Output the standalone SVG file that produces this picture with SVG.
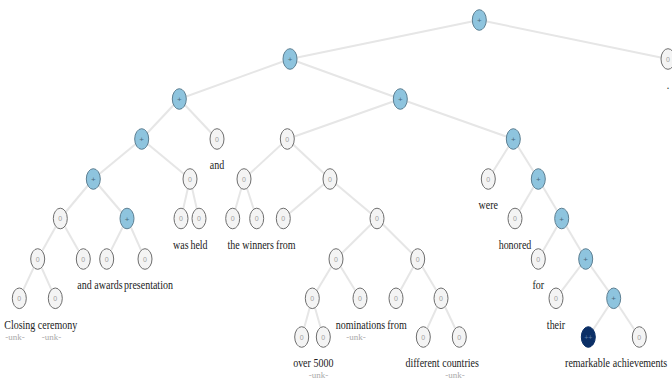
<svg xmlns="http://www.w3.org/2000/svg" width="672" height="379" viewBox="0 0 672 379">
<style>
.e{stroke:#e6e6e6;stroke-width:2;fill:none}
.z{fill:#f4f4f4;stroke:#6e6e6e;stroke-width:1}
.p{fill:#8ec4de;stroke:#5d7f92;stroke-width:1}
.pp{fill:#0b2f66;stroke:#0b2f66;stroke-width:1}
.d{font-family:"Liberation Sans",Arial,sans-serif;font-size:7px;text-anchor:middle;fill:#a0a0a0}
.dp{font-family:"Liberation Sans",Arial,sans-serif;font-size:8px;text-anchor:middle;fill:#4a6a7c}
.dpp{font-family:"Liberation Sans",Arial,sans-serif;font-size:7px;text-anchor:middle;fill:#5f7fa8}
.w{font-family:"Liberation Serif","Times New Roman",serif;font-size:12.5px;text-anchor:middle;fill:#222}
.u{font-family:"Liberation Serif","Times New Roman",serif;font-size:9px;text-anchor:middle;fill:#aaa}
</style>
<rect width="672" height="379" fill="#fff"/>
<g id="connectors">
<line class="e" x1="479.3" y1="20" x2="290" y2="59"/>
<line class="e" x1="479.3" y1="20" x2="668" y2="59"/>
<line class="e" x1="290" y1="59" x2="179.3" y2="99"/>
<line class="e" x1="290" y1="59" x2="400.3" y2="99"/>
<line class="e" x1="179.3" y1="99" x2="141.7" y2="139"/>
<line class="e" x1="179.3" y1="99" x2="217" y2="139"/>
<line class="e" x1="400.3" y1="99" x2="287.3" y2="139"/>
<line class="e" x1="400.3" y1="99" x2="513.3" y2="139"/>
<line class="e" x1="141.7" y1="139" x2="93.3" y2="179"/>
<line class="e" x1="141.7" y1="139" x2="190" y2="179"/>
<line class="e" x1="287.3" y1="139" x2="244" y2="179"/>
<line class="e" x1="287.3" y1="139" x2="330" y2="179"/>
<line class="e" x1="513.3" y1="139" x2="488.3" y2="179"/>
<line class="e" x1="513.3" y1="139" x2="538.3" y2="179"/>
<line class="e" x1="93.3" y1="179" x2="60.3" y2="218.5"/>
<line class="e" x1="93.3" y1="179" x2="127" y2="218.5"/>
<line class="e" x1="190" y1="179" x2="181" y2="218.5"/>
<line class="e" x1="190" y1="179" x2="199" y2="218.5"/>
<line class="e" x1="244" y1="179" x2="232.7" y2="218.5"/>
<line class="e" x1="244" y1="179" x2="256.7" y2="218.5"/>
<line class="e" x1="330" y1="179" x2="283.3" y2="218.5"/>
<line class="e" x1="330" y1="179" x2="377" y2="218.5"/>
<line class="e" x1="538.3" y1="179" x2="515" y2="218.5"/>
<line class="e" x1="538.3" y1="179" x2="561.7" y2="218.5"/>
<line class="e" x1="60.3" y1="218.5" x2="37.7" y2="259"/>
<line class="e" x1="60.3" y1="218.5" x2="83.3" y2="259"/>
<line class="e" x1="127" y1="218.5" x2="106.7" y2="259"/>
<line class="e" x1="127" y1="218.5" x2="145" y2="259"/>
<line class="e" x1="377" y1="218.5" x2="336" y2="259"/>
<line class="e" x1="377" y1="218.5" x2="417.7" y2="259"/>
<line class="e" x1="561.7" y1="218.5" x2="538.3" y2="259"/>
<line class="e" x1="561.7" y1="218.5" x2="585.7" y2="259"/>
<line class="e" x1="37.7" y1="259" x2="19.3" y2="298.3"/>
<line class="e" x1="37.7" y1="259" x2="55.3" y2="298.3"/>
<line class="e" x1="336" y1="259" x2="312.3" y2="298.3"/>
<line class="e" x1="336" y1="259" x2="360" y2="298.3"/>
<line class="e" x1="417.7" y1="259" x2="396" y2="298.3"/>
<line class="e" x1="417.7" y1="259" x2="441" y2="298.3"/>
<line class="e" x1="585.7" y1="259" x2="556" y2="298.3"/>
<line class="e" x1="585.7" y1="259" x2="613.7" y2="298.3"/>
<line class="e" x1="312.3" y1="298.3" x2="301.7" y2="337"/>
<line class="e" x1="312.3" y1="298.3" x2="323.3" y2="337"/>
<line class="e" x1="441" y1="298.3" x2="423.3" y2="337"/>
<line class="e" x1="441" y1="298.3" x2="459.3" y2="337"/>
<line class="e" x1="613.7" y1="298.3" x2="588.3" y2="337"/>
<line class="e" x1="613.7" y1="298.3" x2="639.3" y2="337"/>
</g>
<g id="n0"><ellipse class="p" cx="479.3" cy="20" rx="7" ry="10.3"/><text class="dp" x="479.3" y="23">+</text></g>
<g id="n1"><ellipse class="p" cx="290" cy="59" rx="7" ry="10.3"/><text class="dp" x="290" y="62">+</text></g>
<g id="n2"><ellipse class="z" cx="668" cy="59" rx="7" ry="10.3"/><text class="d" x="668" y="61.5">0</text><text class="w" transform="translate(668 89) scale(0.8 1)">.</text></g>
<g id="n3"><ellipse class="p" cx="179.3" cy="99" rx="7" ry="10.3"/><text class="dp" x="179.3" y="102">+</text></g>
<g id="n4"><ellipse class="p" cx="400.3" cy="99" rx="7" ry="10.3"/><text class="dp" x="400.3" y="102">+</text></g>
<g id="n5"><ellipse class="p" cx="141.7" cy="139" rx="7" ry="10.3"/><text class="dp" x="141.7" y="142">+</text></g>
<g id="n6"><ellipse class="z" cx="217" cy="139" rx="7" ry="10.3"/><text class="d" x="217" y="141.5">0</text><text class="w" transform="translate(217 169) scale(0.8 1)">and</text></g>
<g id="n7"><ellipse class="z" cx="287.3" cy="139" rx="7" ry="10.3"/><text class="d" x="287.3" y="141.5">0</text></g>
<g id="n8"><ellipse class="p" cx="513.3" cy="139" rx="7" ry="10.3"/><text class="dp" x="513.3" y="142">+</text></g>
<g id="n9"><ellipse class="p" cx="93.3" cy="179" rx="7" ry="10.3"/><text class="dp" x="93.3" y="182">+</text></g>
<g id="n10"><ellipse class="z" cx="190" cy="179" rx="7" ry="10.3"/><text class="d" x="190" y="181.5">0</text></g>
<g id="n11"><ellipse class="z" cx="244" cy="179" rx="7" ry="10.3"/><text class="d" x="244" y="181.5">0</text></g>
<g id="n12"><ellipse class="z" cx="330" cy="179" rx="7" ry="10.3"/><text class="d" x="330" y="181.5">0</text></g>
<g id="n13"><ellipse class="z" cx="488.3" cy="179" rx="7" ry="10.3"/><text class="d" x="488.3" y="181.5">0</text><text class="w" transform="translate(488.3 209) scale(0.8 1)">were</text></g>
<g id="n14"><ellipse class="p" cx="538.3" cy="179" rx="7" ry="10.3"/><text class="dp" x="538.3" y="182">+</text></g>
<g id="n15"><ellipse class="z" cx="60.3" cy="218.5" rx="7" ry="10.3"/><text class="d" x="60.3" y="221">0</text></g>
<g id="n16"><ellipse class="p" cx="127" cy="218.5" rx="7" ry="10.3"/><text class="dp" x="127" y="221.5">+</text></g>
<g id="n17"><ellipse class="z" cx="181" cy="218.5" rx="7" ry="10.3"/><text class="d" x="181" y="221">0</text><text class="w" transform="translate(180.8 248.5) scale(0.8 1)">was</text></g>
<g id="n18"><ellipse class="z" cx="199" cy="218.5" rx="7" ry="10.3"/><text class="d" x="199" y="221">0</text><text class="w" transform="translate(199 248.5) scale(0.8 1)">held</text></g>
<g id="n19"><ellipse class="z" cx="232.7" cy="218.5" rx="7" ry="10.3"/><text class="d" x="232.7" y="221">0</text><text class="w" transform="translate(233.5 248.5) scale(0.8 1)">the</text></g>
<g id="n20"><ellipse class="z" cx="256.7" cy="218.5" rx="7" ry="10.3"/><text class="d" x="256.7" y="221">0</text><text class="w" transform="translate(258 248.5) scale(0.8 1)">winners</text></g>
<g id="n21"><ellipse class="z" cx="283.3" cy="218.5" rx="7" ry="10.3"/><text class="d" x="283.3" y="221">0</text><text class="w" transform="translate(285.8 248.5) scale(0.8 1)">from</text></g>
<g id="n22"><ellipse class="z" cx="377" cy="218.5" rx="7" ry="10.3"/><text class="d" x="377" y="221">0</text></g>
<g id="n23"><ellipse class="z" cx="515" cy="218.5" rx="7" ry="10.3"/><text class="d" x="515" y="221">0</text><text class="w" transform="translate(515 248.5) scale(0.8 1)">honored</text></g>
<g id="n24"><ellipse class="p" cx="561.7" cy="218.5" rx="7" ry="10.3"/><text class="dp" x="561.7" y="221.5">+</text></g>
<g id="n25"><ellipse class="z" cx="37.7" cy="259" rx="7" ry="10.3"/><text class="d" x="37.7" y="261.5">0</text></g>
<g id="n26"><ellipse class="z" cx="83.3" cy="259" rx="7" ry="10.3"/><text class="d" x="83.3" y="261.5">0</text><text class="w" transform="translate(84.5 289) scale(0.8 1)">and</text></g>
<g id="n27"><ellipse class="z" cx="106.7" cy="259" rx="7" ry="10.3"/><text class="d" x="106.7" y="261.5">0</text><text class="w" transform="translate(108.5 289) scale(0.8 1)">awards</text></g>
<g id="n28"><ellipse class="z" cx="145" cy="259" rx="7" ry="10.3"/><text class="d" x="145" y="261.5">0</text><text class="w" transform="translate(148.5 289) scale(0.8 1)">presentation</text></g>
<g id="n29"><ellipse class="z" cx="336" cy="259" rx="7" ry="10.3"/><text class="d" x="336" y="261.5">0</text></g>
<g id="n30"><ellipse class="z" cx="417.7" cy="259" rx="7" ry="10.3"/><text class="d" x="417.7" y="261.5">0</text></g>
<g id="n31"><ellipse class="z" cx="538.3" cy="259" rx="7" ry="10.3"/><text class="d" x="538.3" y="261.5">0</text><text class="w" transform="translate(538.3 289) scale(0.8 1)">for</text></g>
<g id="n32"><ellipse class="p" cx="585.7" cy="259" rx="7" ry="10.3"/><text class="dp" x="585.7" y="262">+</text></g>
<g id="n33"><ellipse class="z" cx="19.3" cy="298.3" rx="7" ry="10.3"/><text class="d" x="19.3" y="300.8">0</text><text class="w" transform="translate(19.8 328.5) scale(0.8 1)">Closing</text><text class="u" x="15" y="339.5">-unk-</text></g>
<g id="n34"><ellipse class="z" cx="55.3" cy="298.3" rx="7" ry="10.3"/><text class="d" x="55.3" y="300.8">0</text><text class="w" transform="translate(57.5 328.5) scale(0.8 1)">ceremony</text><text class="u" x="51.5" y="339.5">-unk-</text></g>
<g id="n35"><ellipse class="z" cx="312.3" cy="298.3" rx="7" ry="10.3"/><text class="d" x="312.3" y="300.8">0</text></g>
<g id="n36"><ellipse class="z" cx="360" cy="298.3" rx="7" ry="10.3"/><text class="d" x="360" y="300.8">0</text><text class="w" transform="translate(360.5 328.5) scale(0.8 1)">nominations</text><text class="u" x="356" y="339.5">-unk-</text></g>
<g id="n37"><ellipse class="z" cx="396" cy="298.3" rx="7" ry="10.3"/><text class="d" x="396" y="300.8">0</text><text class="w" transform="translate(397 328.5) scale(0.8 1)">from</text></g>
<g id="n38"><ellipse class="z" cx="441" cy="298.3" rx="7" ry="10.3"/><text class="d" x="441" y="300.8">0</text></g>
<g id="n39"><ellipse class="z" cx="556" cy="298.3" rx="7" ry="10.3"/><text class="d" x="556" y="300.8">0</text><text class="w" transform="translate(556 328.5) scale(0.8 1)">their</text></g>
<g id="n40"><ellipse class="p" cx="613.7" cy="298.3" rx="7" ry="10.3"/><text class="dp" x="613.7" y="301.3">+</text></g>
<g id="n41"><ellipse class="z" cx="301.7" cy="337" rx="7" ry="10.3"/><text class="d" x="301.7" y="339.5">0</text><text class="w" transform="translate(302 367) scale(0.8 1)">over</text></g>
<g id="n42"><ellipse class="z" cx="323.3" cy="337" rx="7" ry="10.3"/><text class="d" x="323.3" y="339.5">0</text><text class="w" transform="translate(323.5 367) scale(0.8 1)">5000</text><text class="u" x="318.5" y="377.5">-unk-</text></g>
<g id="n43"><ellipse class="z" cx="423.3" cy="337" rx="7" ry="10.3"/><text class="d" x="423.3" y="339.5">0</text><text class="w" transform="translate(422.5 367) scale(0.8 1)">different</text></g>
<g id="n44"><ellipse class="z" cx="459.3" cy="337" rx="7" ry="10.3"/><text class="d" x="459.3" y="339.5">0</text><text class="w" transform="translate(460.5 367) scale(0.8 1)">countries</text><text class="u" x="455" y="377.5">-unk-</text></g>
<g id="n45"><ellipse class="pp" cx="588.3" cy="337" rx="7" ry="10.3"/><text class="dpp" x="588.3" y="339.5">++</text><text class="w" transform="translate(587.5 367) scale(0.8 1)">remarkable</text></g>
<g id="n46"><ellipse class="z" cx="639.3" cy="337" rx="7" ry="10.3"/><text class="d" x="639.3" y="339.5">0</text><text class="w" transform="translate(640 367) scale(0.8 1)">achievements</text></g>
</svg>
